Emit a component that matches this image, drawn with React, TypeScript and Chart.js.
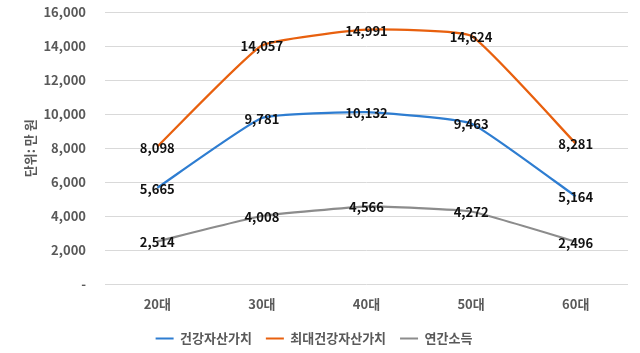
import React, { useEffect, useRef } from "react";
import { Chart, registerables } from "chart.js";

Chart.register(...registerables);

const categories = ["20대", "30대", "40대", "50대", "60대"];
const healthAsset = [5665, 9781, 10132, 9463, 5164];
const maxHealthAsset = [8098, 14057, 14991, 14624, 8281];
const annualIncome = [2514, 4008, 4566, 4272, 2496];
const seriesNames = ["건강자산가치", "최대건강자산가치", "연간소득"];
const yTicks = [0, 2000, 4000, 6000, 8000, 10000, 12000, 14000, 16000];
const yTitle = "단위: 만 원";

const FONT = "'Noto Sans CJK KR', 'Noto Sans', sans-serif";

const fmt = (v: number) => (v === 0 ? "-" : v.toLocaleString("en-US"));

const labelPlugin = {
  id: "pointLabels",
  afterDatasetsDraw(chart: any) {
    const ctx = chart.ctx;
    ctx.save();
    ctx.font = `600 13px ${FONT}`;
    ctx.fillStyle = "#111111";
    ctx.textAlign = "center";
    ctx.textBaseline = "middle";
    chart.data.datasets.forEach((ds: any, i: number) => {
      const meta = chart.getDatasetMeta(i);
      meta.data.forEach((pt: any, j: number) => {
        ctx.fillText(fmt(ds.data[j]), pt.x, pt.y + 1);
      });
    });
    ctx.restore();
  },
};

export default function App() {
  const ref = useRef<HTMLCanvasElement>(null);
  useEffect(() => {
    const colors = ["#2E7DD1", "#E8600E", "#8C8C8C"];
    const data = [healthAsset, maxHealthAsset, annualIncome];
    const chart = new Chart(ref.current!, {
      type: "line",
      data: {
        labels: categories,
        datasets: seriesNames.map((name, i) => ({
          label: name,
          data: data[i],
          borderColor: colors[i],
          backgroundColor: colors[i],
          borderWidth: 2.25,
          pointRadius: 0,
          tension: 0.12,
          fill: false,
        })),
      },
      options: {
        animation: false,
        responsive: false,
        maintainAspectRatio: false,
        layout: { padding: { top: 12.5, right: 12, left: 0, bottom: -2 } },
        scales: {
          x: {
            offset: true,
            grid: { display: false, drawTicks: false },
            border: { display: false },
            afterFit: (s: any) => {
              s.height = 34;
            },
            ticks: {
              color: "#595959",
              font: { family: FONT, size: 13, weight: "bold" },
              padding: 12,
            },
          },
          y: {
            min: 0,
            max: 16000,
            afterBuildTicks: (s: any) => {
              s.ticks = yTicks.map((v) => ({ value: v }));
            },
            afterFit: (s: any) => {
              s.width = 105;
              s.paddingTop = 0;
              s.paddingBottom = 0;
            },
            grid: { color: "#D9D9D9", lineWidth: 1, drawTicks: false },
            border: { display: false },
            ticks: {
              color: "#595959",
              font: { family: FONT, size: 13, weight: "bold" },
              padding: 19,
              callback: (v: any) => fmt(Number(v)),
            },
            title: {
              display: true,
              text: yTitle,
              color: "#595959",
              font: { family: FONT, size: 13, weight: "bold" },
              padding: { top: 22, bottom: 0 },
            },
          },
        },
        plugins: {
          legend: {
            position: "bottom",
            labels: {
              color: "#595959",
              font: { family: FONT, size: 13, weight: "bold" },
              boxWidth: 18,
              boxHeight: 2,
              padding: 14,
              generateLabels: (c: any) =>
                Chart.defaults.plugins.legend.labels
                  .generateLabels(c)
                  .map((l: any) => ({ ...l, lineWidth: 0 })),
            },
          },
          tooltip: { enabled: false },
        },
      },
      plugins: [labelPlugin],
    } as any);
    return () => chart.destroy();
  }, []);
  return (
    <div style={{ position: "fixed", left: 0, top: 0, width: 640, height: 353, background: "#fff" }}>
      <canvas ref={ref} width={640} height={353} style={{ width: 640, height: 353 }} />
    </div>
  );
}
